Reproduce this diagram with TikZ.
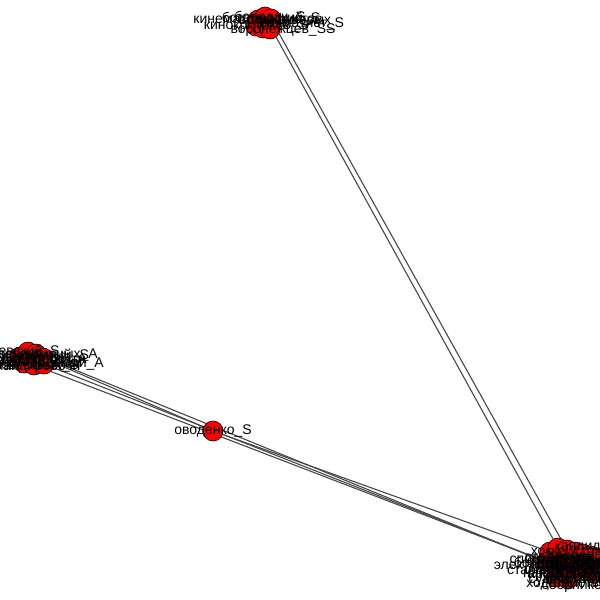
\documentclass[tikz,border=0pt]{standalone}
\usepackage{fontspec}
\setmainfont{Liberation Sans}
\usetikzlibrary{backgrounds}
\tikzset{
  dot/.style={circle,draw=black,line width=0.6pt,fill=red,minimum size=20pt,inner sep=0pt},
  lbl/.style={font=\fontsize{14}{14}\selectfont,inner sep=0pt,text=black},
  edge/.style={draw=black!72,line width=1.1pt},
}
\begin{document}
\begin{tikzpicture}[x=1pt,y=-1pt]
\clip (0,0) rectangle (600,600);
\useasboundingbox (0,0) rectangle (600,600);
% top cluster
\node[dot] (t1) at (258,20) {};
\node[dot] (t2) at (265,17) {};
\node[dot] (t3) at (271,19) {};
\node[dot] (t4) at (256,26) {};
\node[dot] (t5) at (263,28) {};
\node[dot] (t6) at (270,29) {};
% left cluster
\node[dot] (l1) at (20,357) {};
\node[dot] (l2) at (28,352) {};
\node[dot] (l3) at (36,354) {};
\node[dot] (l4) at (43,358) {};
\node[dot] (l5) at (24,363) {};
\node[dot] (l6) at (34,365) {};
\node[dot] (l7) at (44,364) {};
% middle node
\node[dot] (ov) at (213,431) {};
% bottom-right cluster
\node[dot] (b1) at (550,552) {};
\node[dot] (b2) at (558,548) {};
\node[dot] (b3) at (567,550) {};
\node[dot] (b4) at (575,552) {};
\node[dot] (b5) at (583,554) {};
\node[dot] (b6) at (591,556) {};
\node[dot] (b7) at (547,562) {};
\node[dot] (b8) at (555,566) {};
\node[dot] (b9) at (565,569) {};
\node[dot] (b10) at (576,570) {};
\node[dot] (b11) at (586,566) {};
\node[dot] (b12) at (556,577) {};
\node[dot] (b13) at (568,579) {};
\node[dot] (b14) at (594,573) {};
% edges
\begin{scope}[on background layer]
\fill[white] (0,0) rectangle (600,600);
\draw[edge] (t2) -- (b2);
\draw[edge] (t3) -- (b3);
\draw[edge] (l4) -- (ov);
\draw[edge] (ov) -- (b1);
\draw[edge] (l7) -- (b7);
\draw[edge] (l3) -- (b8);
\draw[edge] (l6) -- (b7);
\end{scope}
% labels
\node[lbl] at (t1) {кинематографистов};
\node[lbl] at (256,26) {кинокритиков\_S};
\node[lbl] at (t3) {богатырский\_S};
\node[lbl] at (283,30) {воронежцев\_SS};
\node[lbl] at (300,24) {шахматист\_S};
\node[lbl] at (270,18) {бородач\_S};
\node[lbl] at (285,22) {вороненковых};
\node[lbl] at (30,356) {тренировочный\_S};
\node[lbl] at (28,361) {воздушнодесантн};
\node[lbl] at (42,364) {международный\_A};
\node[lbl] at (36,360) {лидирующий\_A};
\node[lbl] at (22,352) {киевский\_S};
\node[lbl] at (20,366) {малоизвестных\_S};
\node[lbl] at (40,355) {перспективных\_A};
\node[lbl] at (30,368) {командировочн};
\node[lbl] at (12,358) {московский\_S};
\node[lbl] at (34,363) {ленинградский};
\node[lbl] at (ov) {оводенко\_S};
\node[lbl] at (560,560) {спортсменов\_S};
\node[lbl] at (548,566) {электриков\_SSS};
\node[lbl] at (560,572) {старшеклассник};
\node[lbl] at (575,552) {хоккеистов\_S};
\node[lbl] at (585,578) {храмовник\_S};
\node[lbl] at (578,562) {футболистов\_S};
\node[lbl] at (590,568) {командирских};
\node[lbl] at (588,556) {тренеров\_S};
\node[lbl] at (570,580) {судейство\_S};
\node[lbl] at (592,548) {кандидатов};
\node[lbl] at (566,564) {болельщиков\_S};
\node[lbl] at (580,575) {арбитражный\_S};
\node[lbl] at (572,558) {стадионов\_SS};
\node[lbl] at (583,569) {чемпионатов};
\node[lbl] at (596,562) {полузащитник};
\node[lbl] at (574,567) {голкипер\_S};
\node[lbl] at (575,584) {ходатайство\_S};
\node[lbl] at (586,560) {вратарский\_SS};
\node[lbl] at (565,575) {нападающих};
\node[lbl] at (590,580) {защитников\_S};
\node[lbl] at (580,565) {дисквалифиц};
\node[lbl] at (592,572) {тренировки\_S};
\node[lbl] at (570,570) {соревнований};
\node[lbl] at (584,586) {сборников\_S};
\end{tikzpicture}
\end{document}
